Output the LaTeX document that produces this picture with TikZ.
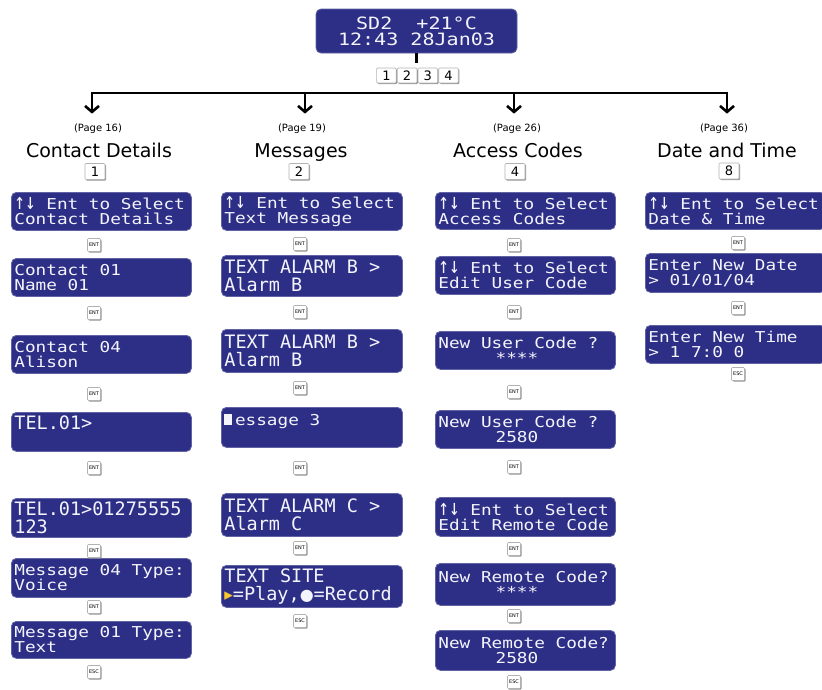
\documentclass[tikz,border=0pt]{standalone}
\usepackage{fontspec}
\usepackage{tikz}
\usetikzlibrary{arrows.meta,shadows}
\setsansfont{DejaVu Sans}
\newfontfamily\lcdfont[FakeStretch=1.18]{DejaVu Sans Mono}
\newfontfamily\lcdbigfont{DejaVu Sans Mono}
\newfontfamily\glyphfont{DejaVu Sans}
\newcommand{\lcdsetup}{\spaceskip=\fontcharwd\font`0\relax\xspaceskip=\spaceskip\hyphenpenalty=10000\exhyphenpenalty=10000\hbadness=10000\hfuzz=20pt}
\newcommand{\updown}{\scalebox{1}[1.5]{↑↓}}
\definecolor{lcdblue}{RGB}{45,47,134}
\definecolor{lcdtext}{RGB}{244,244,252}
\definecolor{playtip}{RGB}{250,200,40}

\begin{document}
\begin{tikzpicture}[x=1pt, y=-1pt,
    screen/.style={rectangle, rounded corners=5pt, fill=lcdblue, draw=lcdblue!75!white, line width=0.8pt, text=lcdtext, anchor=north west, inner xsep=3pt, inner ysep=0pt, text width=174pt, minimum height=38pt, align=left, execute at begin node=\lcdsetup, font=\lcdfont\fontsize{15}{15}\selectfont},
    bigscreen/.style={screen, minimum height=42pt, font=\lcdbigfont\fontsize{18.5}{18}\selectfont},
    key/.style={rectangle, rounded corners=1pt, draw=gray!60, fill=white, line width=0.6pt, inner sep=0pt, drop shadow={shadow xshift=1pt, shadow yshift=-1pt, fill=gray!85, opacity=1}},
    entkey/.style={key, minimum size=13pt, font=\sffamily\fontsize{5}{5}\selectfont},
    numkey/.style={key, minimum width=20pt, minimum height=16pt, font=\sffamily\fontsize{13}{13}\selectfont},
    page/.style={font=\sffamily\fontsize{10}{10}\selectfont},
    title/.style={anchor=base, font=\sffamily\fontsize{19}{19}\selectfont},
    bar/.style={line width=2.6pt, line cap=rect}]
    \useasboundingbox (0,0) rectangle (822,689);

    \node[screen, anchor=center, align=center, text width=195pt, minimum height=44pt, font=\lcdfont\fontsize{17}{16}\selectfont] (sd2) at (416.5,31) {SD2~~+21°C\\12:43 28Jan03};
    \foreach \n [count=\i] in {1,2,3,4}
        \node[numkey, minimum width=19.5pt, minimum height=15pt] (menu\n) at (365.7+20.7*\i,75.5) {\n};
    \coordinate (stem) at (416.5,63);
    \draw[line width=2.4pt] (sd2) -- (stem);

    \foreach \x [count=\i] in {92,305,514,727}
        \coordinate (b\i) at (\x,93);
    \draw[bar] (b1) -- (b4);

    \node[page] (page1) at (98,129) {(Page 16)};
    \node[page] (page2) at (302,129) {(Page 19)};
    \node[page] (page3) at (517,129) {(Page 26)};
    \node[page] (page4) at (724,129) {(Page 36)};
    \foreach \i in {1,2,3,4}
        \draw[bar, -{Straight Barb[length=6pt,width=14pt]}, shorten >=7pt] (b\i) -- (b\i |- page\i.north);

    \node[title] (title1) at (99,157) {Contact Details};
    \node[title] (title2) at (301,157) {Messages};
    \node[title] (title3) at (518,157) {Access Codes};
    \node[title] (title4) at (727,157) {Date and Time};
    \node[numkey] (num1) at (95,171.5) {1};
    \node[numkey] (num2) at (299,171.5) {2};
    \node[numkey] (num4) at (515,171.5) {4};
    \node[numkey] (num8) at (729,171) {8};

    \node[screen] (cd1) at (11,192) {\updown{} Ent to Select\\Contact Details};
    \node[screen] (cd2) at (11,258) {Contact 01\\Name 01};
    \node[screen] (cd3) at (11,335) {Contact 04\\Alison};
    \node[bigscreen, minimum height=39pt] (cd4) at (11,412) {TEL.01>\\~};
    \node[bigscreen, minimum height=39pt] (cd5) at (11,498) {TEL.01>01275555\\123};
    \node[screen, minimum height=39pt] (cd6) at (11,558) {Message 04 Type:\\Voice};
    \node[screen, minimum height=37pt] (cd7) at (11,621) {Message 01 Type:\\Text};
    \foreach \y [count=\i] in {245,313,394,468,551,607}
        \node[entkey] (cdent\i) at (94,\y) {ENT};
    \node[entkey] (cdesc) at (94,672) {ESC};

    \node[screen, text width=175pt] (msg1) at (221,192) {\updown{} Ent to Select\\Text Message};
    \node[bigscreen, text width=175pt, minimum height=41pt] (msg2) at (221,255) {TEXT ALARM B >\\Alarm B};
    \node[bigscreen, text width=175pt, minimum height=43pt] (msg3) at (221,329) {TEXT ALARM B >\\Alarm B};
    \node[screen, text width=175pt, minimum height=40pt] (msg4) at (221,407) {\rule{8pt}{11pt}\kern2.6pt essage 3\\~};
    \node[bigscreen, text width=175pt, minimum height=43pt] (msg5) at (221,493) {TEXT ALARM C >\\Alarm C};
    \node[bigscreen, text width=175pt] (msg6) at (221,565) {TEXT SITE\\{\glyphfont\fontsize{17}{17}\selectfont\color{playtip}▸}=Play,{\glyphfont\fontsize{16}{16}\selectfont\raisebox{-0.5pt}{●}}=Record};
    \foreach \y [count=\i] in {244,312,388,468,548}
        \node[entkey] (msgent\i) at (300,\y) {ENT};
    \node[entkey] (msgesc) at (300,621) {ESC};

    \node[screen, minimum height=37pt] (acc1) at (435,192) {\updown{} Ent to Select\\Access Codes};
    \node[screen] (acc2) at (435,256) {\updown{} Ent to Select\\Edit User Code};
    \node[screen] (acc3) at (435,331) {New User Code ?\\\hphantom{00000}\kern4pt****};
    \node[screen] (acc4) at (435,410) {New User Code ?\\\hphantom{00000}\kern4pt2580};
    \node[screen, minimum height=39pt] (acc5) at (435,497) {\updown{} Ent to Select\\Edit Remote Code};
    \node[screen, minimum height=42pt] (acc6) at (435,563) {New Remote Code?\\\hphantom{00000}\kern4pt****};
    \node[screen, minimum height=40pt] (acc7) at (435,630) {New Remote Code?\\\hphantom{00000}\kern4pt2580};
    \foreach \y [count=\i] in {245,312,392,467,549,616}
        \node[entkey] (accent\i) at (514,\y) {ENT};
    \node[entkey] (accesc) at (514,682) {ESC};

    \node[screen, minimum height=37pt] (dt1) at (645,192) {\updown{} Ent to Select\\Date \& Time};
    \node[screen, minimum height=39pt] (dt2) at (645,253) {Enter New Date\\> 01/01/04};
    \node[screen] (dt3) at (645,325) {Enter New Time\\> 1 7:0 0};
    \foreach \y [count=\i] in {243,308}
        \node[entkey] (dtent\i) at (738,\y) {ENT};
    \node[entkey] (dtesc) at (738,374) {ESC};
\end{tikzpicture}
\end{document}
